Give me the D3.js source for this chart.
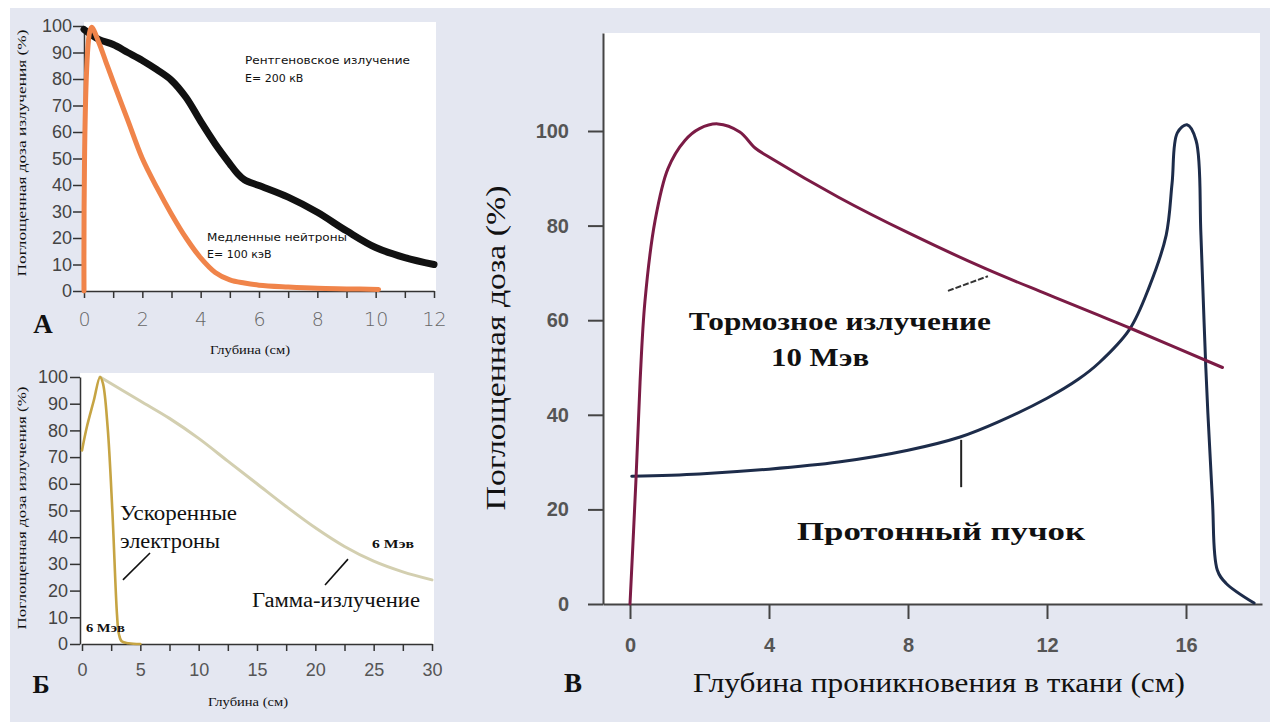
<!DOCTYPE html>
<html>
<head>
<meta charset="utf-8">
<script src="https://cdn.jsdelivr.net/npm/d3@7"></script>
<style>
body { margin: 0; background: #ffffff; }
svg { display: block; }
</style>
</head>
<body>
<svg id="chart" width="1270" height="722"></svg>
<script>
// ---- panel A: x-ray 200 kV vs slow neutrons ----
var depthXray = [0, 0.5, 1, 1.5, 2, 2.5, 3, 3.5, 4, 4.5, 5, 5.25, 5.5, 6, 7, 8, 9, 10, 11, 12];
var doseXray = [98.7, 95, 93, 90, 87, 83.5, 79.5, 73, 64, 55.5, 48, 44.5, 42, 39.8, 35.4, 29.7, 22.7, 16.4, 12.6, 10];
var depthNeutron = [0, 0.25, 0.5, 0.75, 1, 1.5, 2, 2.5, 3, 3.5, 4, 4.5, 5, 5.5, 6, 7, 8, 9, 10.1];
var doseNeutron = [0, 99.5, 94, 86.5, 79, 64.5, 50, 39, 29, 20, 12.5, 7, 4.2, 3, 2.2, 1.5, 1.0, 0.8, 0.6];
var ticksA_x = [0, 1, 2, 3, 4, 5, 6, 7, 8, 9, 10, 11, 12];
var ticksA_y = [0, 10, 20, 30, 40, 50, 60, 70, 80, 90, 100];

// ---- panel B: accelerated electrons vs gamma, 6 MeV ----
var depthElectron = [0, 0.4, 1.0, 1.55, 1.8, 2.2, 2.6, 3.0, 3.15, 3.4, 4, 5];
var doseElectron = [72.5, 81, 91, 100, 97.5, 81, 50, 11, 4, 1, 0.3, 0];
var depthGamma = [1.55, 5, 7.5, 10, 12.5, 15, 17.5, 20, 22.5, 25, 27.5, 30];
var doseGamma = [100, 91, 84.5, 77, 68.5, 60, 51.5, 43.5, 36.5, 31, 27, 24];
var ticksB_x = [0, 2.5, 5, 7.5, 10, 12.5, 15, 17.5, 20, 22.5, 25, 27.5, 30];
var ticksB_y = [0, 10, 20, 30, 40, 50, 60, 70, 80, 90, 100];

// ---- panel V: bremsstrahlung 10 MeV vs proton beam ----
var depthBrems = [0, 0.17, 0.29, 0.43, 0.72, 1.09, 1.58, 2.0, 2.53, 3.16, 3.6, 4.0, 6, 8, 10.2, 12, 13.5, 14.4, 17.05];
var doseBrems = [0, 26, 47, 64, 81, 92, 98, 100.5, 101.5, 99.8, 96.4, 94.5, 86, 78.5, 71, 65.5, 61, 58.3, 50];
var depthProton = [0.05, 2, 4, 6, 8, 9.5, 10.6, 12, 12.9, 13.5, 14.37, 14.94, 15.43, 15.6, 15.75, 16.03, 16.29, 16.43, 16.57, 16.76, 16.9, 17.15, 17.96];
var doseProton = [27, 27.5, 28.5, 30, 32.5, 35.3, 38.5, 43.5, 47.5, 51, 58, 67, 78, 89, 99.6, 101.3, 98, 78, 50, 22, 7.2, 4.4, 0.2];
var ticksV_x = [0, 4, 8, 12, 16];
var ticksV_y = [0, 20, 40, 60, 80, 100];

var svg = d3.select("#chart");

// page background: thin white border, lavender field
svg.append("rect").attr("x", 0).attr("y", 0).attr("width", 1270).attr("height", 722).attr("fill", "#ffffff");
svg.append("rect").attr("x", 10).attr("y", 8).attr("width", 1260).attr("height", 714).attr("fill", "#e4e7f1");

/*
 * zips two arrays into point objects
 */
function zipPoints(xs, ys) {
    return xs.map(function(d, i) { return { x: d, y: ys[i] }; });
}

/*
 * draws one curve through the panel scales
 */
function drawCurve(g, x, y, xs, ys, color, width) {
    var line = d3.line()
        .x(function(d) { return x(d.x); })
        .y(function(d) { return y(d.y); })
        .curve(d3.curveCatmullRom.alpha(0.5));
    g.append("path")
        .datum(zipPoints(xs, ys))
        .attr("d", line)
        .attr("fill", "none")
        .attr("stroke", color)
        .attr("stroke-width", width)
        .attr("stroke-linejoin", "round")
        .attr("stroke-linecap", "round");
}

/*
 * plain text helper
 */
function addText(g, x, y, txt, opts) {
    var t = g.append("text")
        .attr("x", x)
        .attr("y", y)
        .attr("font-family", opts.family || "Liberation Serif, serif")
        .attr("font-size", opts.size || 12)
        .attr("font-weight", opts.weight || "normal")
        .attr("fill", opts.fill || "#111")
        .attr("text-anchor", opts.anchor || "start")
        .text(txt);
    if (opts.len) {
        t.attr("textLength", opts.len).attr("lengthAdjust", "spacingAndGlyphs");
    }
    if (opts.rotate) {
        t.attr("transform", "rotate(-90," + x + "," + y + ")");
    }
    return t;
}

function styleAxis(ax, color, width) {
    ax.select(".domain").attr("stroke", color).attr("stroke-width", width);
    ax.selectAll(".tick line").attr("stroke", color).attr("stroke-width", width);
}

/*
 * panel A
 */
function renderPanelA() {
    var g = svg.append("g");
    var x = d3.scaleLinear().domain([0, 12]).range([84, 434]);
    var y = d3.scaleLinear().domain([0, 100]).range([291, 26]);

    g.append("rect")
        .attr("x", x(0)).attr("y", y(101.5))
        .attr("width", x(12) - x(0) + 2).attr("height", y(0) - y(101.5))
        .attr("fill", "#ffffff");

    var yAx = g.append("g")
        .attr("transform", "translate(" + x(0) + ",0)")
        .call(d3.axisLeft(y).tickValues(ticksA_y).tickSize(11).tickSizeOuter(0).tickPadding(1));
    yAx.selectAll("text")
        .attr("font-family", "Liberation Sans, Arial, sans-serif")
        .attr("font-size", 18).attr("fill", "#444");
    styleAxis(yAx, "#333", 1.5);

    var xAx = g.append("g")
        .attr("transform", "translate(0," + y(0) + ")")
        .call(d3.axisBottom(x).tickValues(ticksA_x).tickSize(7).tickSizeOuter(0).tickPadding(15)
            .tickFormat(function(d) { return d % 2 === 0 ? d : ""; }));
    xAx.selectAll("text")
        .attr("font-family", "DejaVu Sans, sans-serif")
        .attr("font-weight", 200)
        .attr("font-size", 19).attr("fill", "#666");
    styleAxis(xAx, "#333", 1.5);

    drawCurve(g, x, y, depthXray, doseXray, "#111111", 7);
    drawCurve(g, x, y, depthNeutron, doseNeutron, "#f0844a", 5);

    addText(g, x(5.52), y(85.7), "Рентгеновское излучение", { family: "DejaVu Sans, sans-serif", size: 11, len: 165 });
    addText(g, x(5.52), y(79), "E= 200 кВ", { family: "DejaVu Sans, sans-serif", size: 11 });
    addText(g, x(4.22), y(18.9), "Медленные нейтроны", { family: "DejaVu Sans, sans-serif", size: 11, len: 140 });
    addText(g, x(4.22), y(12.5), "E= 100 кэВ", { family: "DejaVu Sans, sans-serif", size: 11 });

    addText(g, 26, 153, "Поглощенная доза излучения (%)", { size: 13, anchor: "middle", rotate: true, len: 247 });
    addText(g, 250, 354, "Глубина (см)", { size: 13, anchor: "middle", len: 80 });
    addText(g, 43, 333, "А", { size: 27, weight: "bold", anchor: "middle" });
}

/*
 * panel B
 */
function renderPanelB() {
    var g = svg.append("g");
    var x = d3.scaleLinear().domain([0, 30]).range([82, 432]);
    var y = d3.scaleLinear().domain([0, 100]).range([644, 377]);

    g.append("rect")
        .attr("x", x(0) - 2).attr("y", y(101.5))
        .attr("width", x(30) - x(0) + 4).attr("height", y(0) - y(101.5))
        .attr("fill", "#ffffff");

    var yAx = g.append("g")
        .attr("transform", "translate(" + (x(0) - 2) + ",0)")
        .call(d3.axisLeft(y).tickValues(ticksB_y).tickSize(10).tickSizeOuter(0).tickPadding(2));
    yAx.selectAll("text")
        .attr("font-family", "Liberation Sans, Arial, sans-serif")
        .attr("font-size", 18).attr("fill", "#444");
    styleAxis(yAx, "#333", 1.5);

    var xAx = g.append("g")
        .attr("transform", "translate(0," + y(0) + ")")
        .call(d3.axisBottom(x).tickValues(ticksB_x).tickSize(7).tickSizeOuter(0).tickPadding(12)
            .tickFormat(function(d) { return d % 5 === 0 ? d : ""; }));
    xAx.selectAll("text")
        .attr("font-family", "Liberation Sans, Arial, sans-serif")
        .attr("font-size", 18).attr("fill", "#555");
    styleAxis(xAx, "#333", 1.5);

    drawCurve(g, x, y, depthGamma, doseGamma, "#d3cfb0", 3);
    drawCurve(g, x, y, depthElectron, doseElectron, "#c6a443", 2.6);

    addText(g, x(3.26), y(46.4), "Ускоренные", { size: 20, len: 117 });
    addText(g, x(3.26), y(36), "электроны", { size: 20, len: 100 });
    addText(g, x(14.57), y(13.9), "Гамма-излучение", { size: 20, len: 168 });
    addText(g, x(24.86), y(36), "6 Мэв", { size: 12, weight: "bold", len: 42 });
    addText(g, x(0.34), y(4.5), "6 Мэв", { size: 12, weight: "bold", len: 39 });

    g.append("line")
        .attr("x1", x(3.51)).attr("y1", y(24)).attr("x2", x(5.83)).attr("y2", y(34.1))
        .attr("stroke", "#111").attr("stroke-width", 1.6);
    g.append("line")
        .attr("x1", x(20.83)).attr("y1", y(22.1)).attr("x2", x(22.8)).attr("y2", y(31.8))
        .attr("stroke", "#111").attr("stroke-width", 1.6);

    addText(g, 26, 508, "Поглощенная доза излучения (%)", { size: 13, anchor: "middle", rotate: true, len: 243 });
    addText(g, 248, 706, "Глубина (см)", { size: 13, anchor: "middle", len: 80 });
    addText(g, 41, 693, "Б", { size: 26, weight: "bold", anchor: "middle" });
}

/*
 * panel V
 */
function renderPanelV() {
    var g = svg.append("g");
    var x = d3.scaleLinear().domain([0, 16]).range([630, 1186]);
    var y = d3.scaleLinear().domain([0, 100]).range([604, 131]);
    // axis scales with the same mapping but longer lines
    var xLine = d3.scaleLinear().domain([x.invert(603), x.invert(1262)]).range([603, 1262]);
    var yLine = d3.scaleLinear().domain([0, y.invert(33)]).range([604, 33]);

    g.append("rect")
        .attr("x", 603).attr("y", 33)
        .attr("width", 657).attr("height", 571)
        .attr("fill", "#ffffff");

    var yAx = g.append("g")
        .attr("transform", "translate(603,0)")
        .call(d3.axisLeft(yLine).tickValues(ticksV_y).tickSize(15).tickSizeOuter(0).tickPadding(19));
    yAx.selectAll("text")
        .attr("font-family", "Liberation Sans Narrow, Liberation Sans, Arial, sans-serif")
        .attr("font-weight", "bold")
        .attr("font-size", 20).attr("fill", "#555");
    styleAxis(yAx, "#444", 2);

    var xAx = g.append("g")
        .attr("transform", "translate(0,604)")
        .call(d3.axisBottom(xLine).tickValues(ticksV_x).tickSize(15).tickSizeOuter(0).tickPadding(19));
    xAx.selectAll("text")
        .attr("font-family", "Liberation Sans Narrow, Liberation Sans, Arial, sans-serif")
        .attr("font-weight", "bold")
        .attr("font-size", 20).attr("fill", "#555");
    styleAxis(xAx, "#444", 2);

    drawCurve(g, x, y, depthProton, doseProton, "#1d2c4a", 3);
    drawCurve(g, x, y, depthBrems, doseBrems, "#7b1b45", 3);

    g.append("line")
        .attr("x1", x(9.15)).attr("y1", y(66.2)).attr("x2", x(10.3)).attr("y2", y(69.3))
        .attr("stroke", "#333").attr("stroke-width", 2).attr("stroke-dasharray", "6,2");
    g.append("line")
        .attr("x1", x(9.53)).attr("y1", y(34.7)).attr("x2", x(9.53)).attr("y2", y(24.7))
        .attr("stroke", "#222").attr("stroke-width", 2);

    addText(g, x(6.04), y(57.9), "Тормозное излучение", { size: 25, weight: "bold", anchor: "middle", len: 302 });
    addText(g, x(5.47), y(50.3), "10 Мэв", { size: 25, weight: "bold", anchor: "middle", len: 98 });
    addText(g, x(8.95), y(13.5), "Протонный пучок", { size: 25, weight: "bold", anchor: "middle", len: 288 });

    addText(g, 505, 348, "Поглощенная доза (%)", { size: 27, anchor: "middle", rotate: true, len: 325 });
    addText(g, 939, 692, "Глубина проникновения в ткани (см)", { size: 27, anchor: "middle", len: 492 });
    addText(g, 573, 692, "В", { size: 27, weight: "bold", anchor: "middle" });
}

renderPanelA();
renderPanelB();
renderPanelV();
</script>
</body>
</html>
